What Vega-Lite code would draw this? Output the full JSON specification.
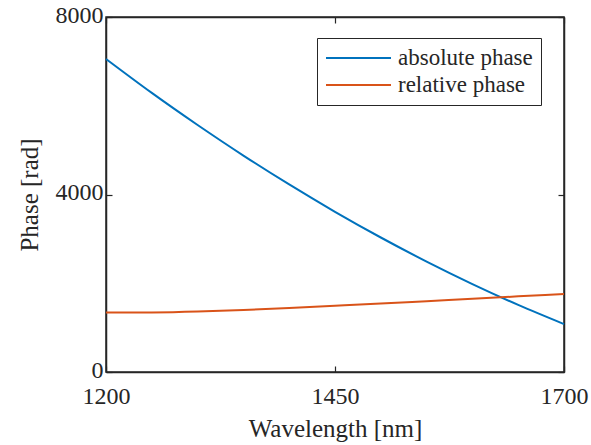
{
  "$schema": "https://vega.github.io/schema/vega-lite/v6.json",
  "width": 458,
  "height": 355,
  "autosize": {"type": "none"},
  "padding": {"left": 106, "top": 17, "right": 27, "bottom": 73},
  "background": "white",
  "config": {
    "font": "Liberation Serif, Times New Roman, Times, serif",
    "view": {"stroke": "#262626", "strokeWidth": 1.5},
    "axis": {
      "domainColor": "#262626",
      "domainWidth": 1.5,
      "tickColor": "#262626",
      "tickWidth": 1.2,
      "tickSize": -6,
      "grid": false,
      "labelFont": "Liberation Serif, Times New Roman, Times, serif",
      "labelFontSize": 24,
      "labelColor": "#262626",
      "titleFont": "Liberation Serif, Times New Roman, Times, serif",
      "titleFontSize": 25,
      "titleFontWeight": "normal",
      "titleColor": "#262626"
    },
    "legend": {
      "labelFont": "Liberation Serif, Times New Roman, Times, serif"
    }
  },
  "data": {
    "values": [
      {"wl": 1200, "phase": 7055, "series": "absolute phase"},
      {"wl": 1250, "phase": 6290, "series": "absolute phase"},
      {"wl": 1300, "phase": 5567, "series": "absolute phase"},
      {"wl": 1350, "phase": 4878, "series": "absolute phase"},
      {"wl": 1400, "phase": 4226, "series": "absolute phase"},
      {"wl": 1450, "phase": 3610, "series": "absolute phase"},
      {"wl": 1500, "phase": 3031, "series": "absolute phase"},
      {"wl": 1550, "phase": 2488, "series": "absolute phase"},
      {"wl": 1600, "phase": 1982, "series": "absolute phase"},
      {"wl": 1650, "phase": 1512, "series": "absolute phase"},
      {"wl": 1700, "phase": 1080, "series": "absolute phase"},
      {"wl": 1200, "phase": 1340, "series": "relative phase"},
      {"wl": 1250, "phase": 1340, "series": "relative phase"},
      {"wl": 1300, "phase": 1362, "series": "relative phase"},
      {"wl": 1350, "phase": 1398, "series": "relative phase"},
      {"wl": 1400, "phase": 1443, "series": "relative phase"},
      {"wl": 1450, "phase": 1492, "series": "relative phase"},
      {"wl": 1500, "phase": 1543, "series": "relative phase"},
      {"wl": 1550, "phase": 1597, "series": "relative phase"},
      {"wl": 1600, "phase": 1650, "series": "relative phase"},
      {"wl": 1650, "phase": 1705, "series": "relative phase"},
      {"wl": 1700, "phase": 1760, "series": "relative phase"}
    ]
  },
  "resolve": {"axis": {"x": "independent", "y": "independent"}},
  "layer": [
    {
      "mark": {"type": "line", "strokeWidth": 2, "interpolate": "natural"},
      "encoding": {
        "x": {
          "field": "wl",
          "type": "quantitative",
          "scale": {"domain": [1200, 1700], "nice": false, "zero": false},
          "axis": {"orient": "bottom", "values": [1200, 1450, 1700], "format": "d", "title": "Wavelength [nm]", "labelPadding": 18, "titlePadding": 8, "labelFlush": false}
        },
        "y": {
          "field": "phase",
          "type": "quantitative",
          "scale": {"domain": [0, 8000], "nice": false},
          "axis": {"orient": "left", "values": [0, 4000, 8000], "format": "d", "title": "Phase [rad]", "labelPadding": 9, "labelOffset": -2, "titlePadding": 13, "labelFlush": false}
        },
        "color": {
          "field": "series",
          "type": "nominal",
          "scale": {"domain": ["absolute phase", "relative phase"], "range": ["#0072BD", "#D95319"]},
          "legend": {
            "title": null,
            "orient": "none",
            "legendX": 211,
            "legendY": 21,
            "direction": "vertical",
            "fillColor": "white",
            "strokeColor": "#262626",
            "padding": 8,
            "symbolType": "M-1,0H4.909",
            "symbolSize": 484,
            "symbolStrokeWidth": 2,
            "labelFont": "Liberation Serif, Times New Roman, Times, serif",
            "labelFontSize": 23,
            "labelColor": "#262626",
            "labelOffset": 49,
            "rowPadding": 3,
            "labelLimit": 300
          }
        }
      }
    },
    {
      "mark": {"type": "line", "opacity": 0},
      "encoding": {
        "x": {
          "field": "wl",
          "type": "quantitative",
          "axis": {"orient": "top", "values": [1200, 1450, 1700], "labels": false, "title": null}
        },
        "y": {
          "field": "phase",
          "type": "quantitative",
          "axis": {"orient": "right", "values": [0, 4000, 8000], "labels": false, "title": null}
        },
        "detail": {"field": "series", "type": "nominal"}
      }
    }
  ]
}
